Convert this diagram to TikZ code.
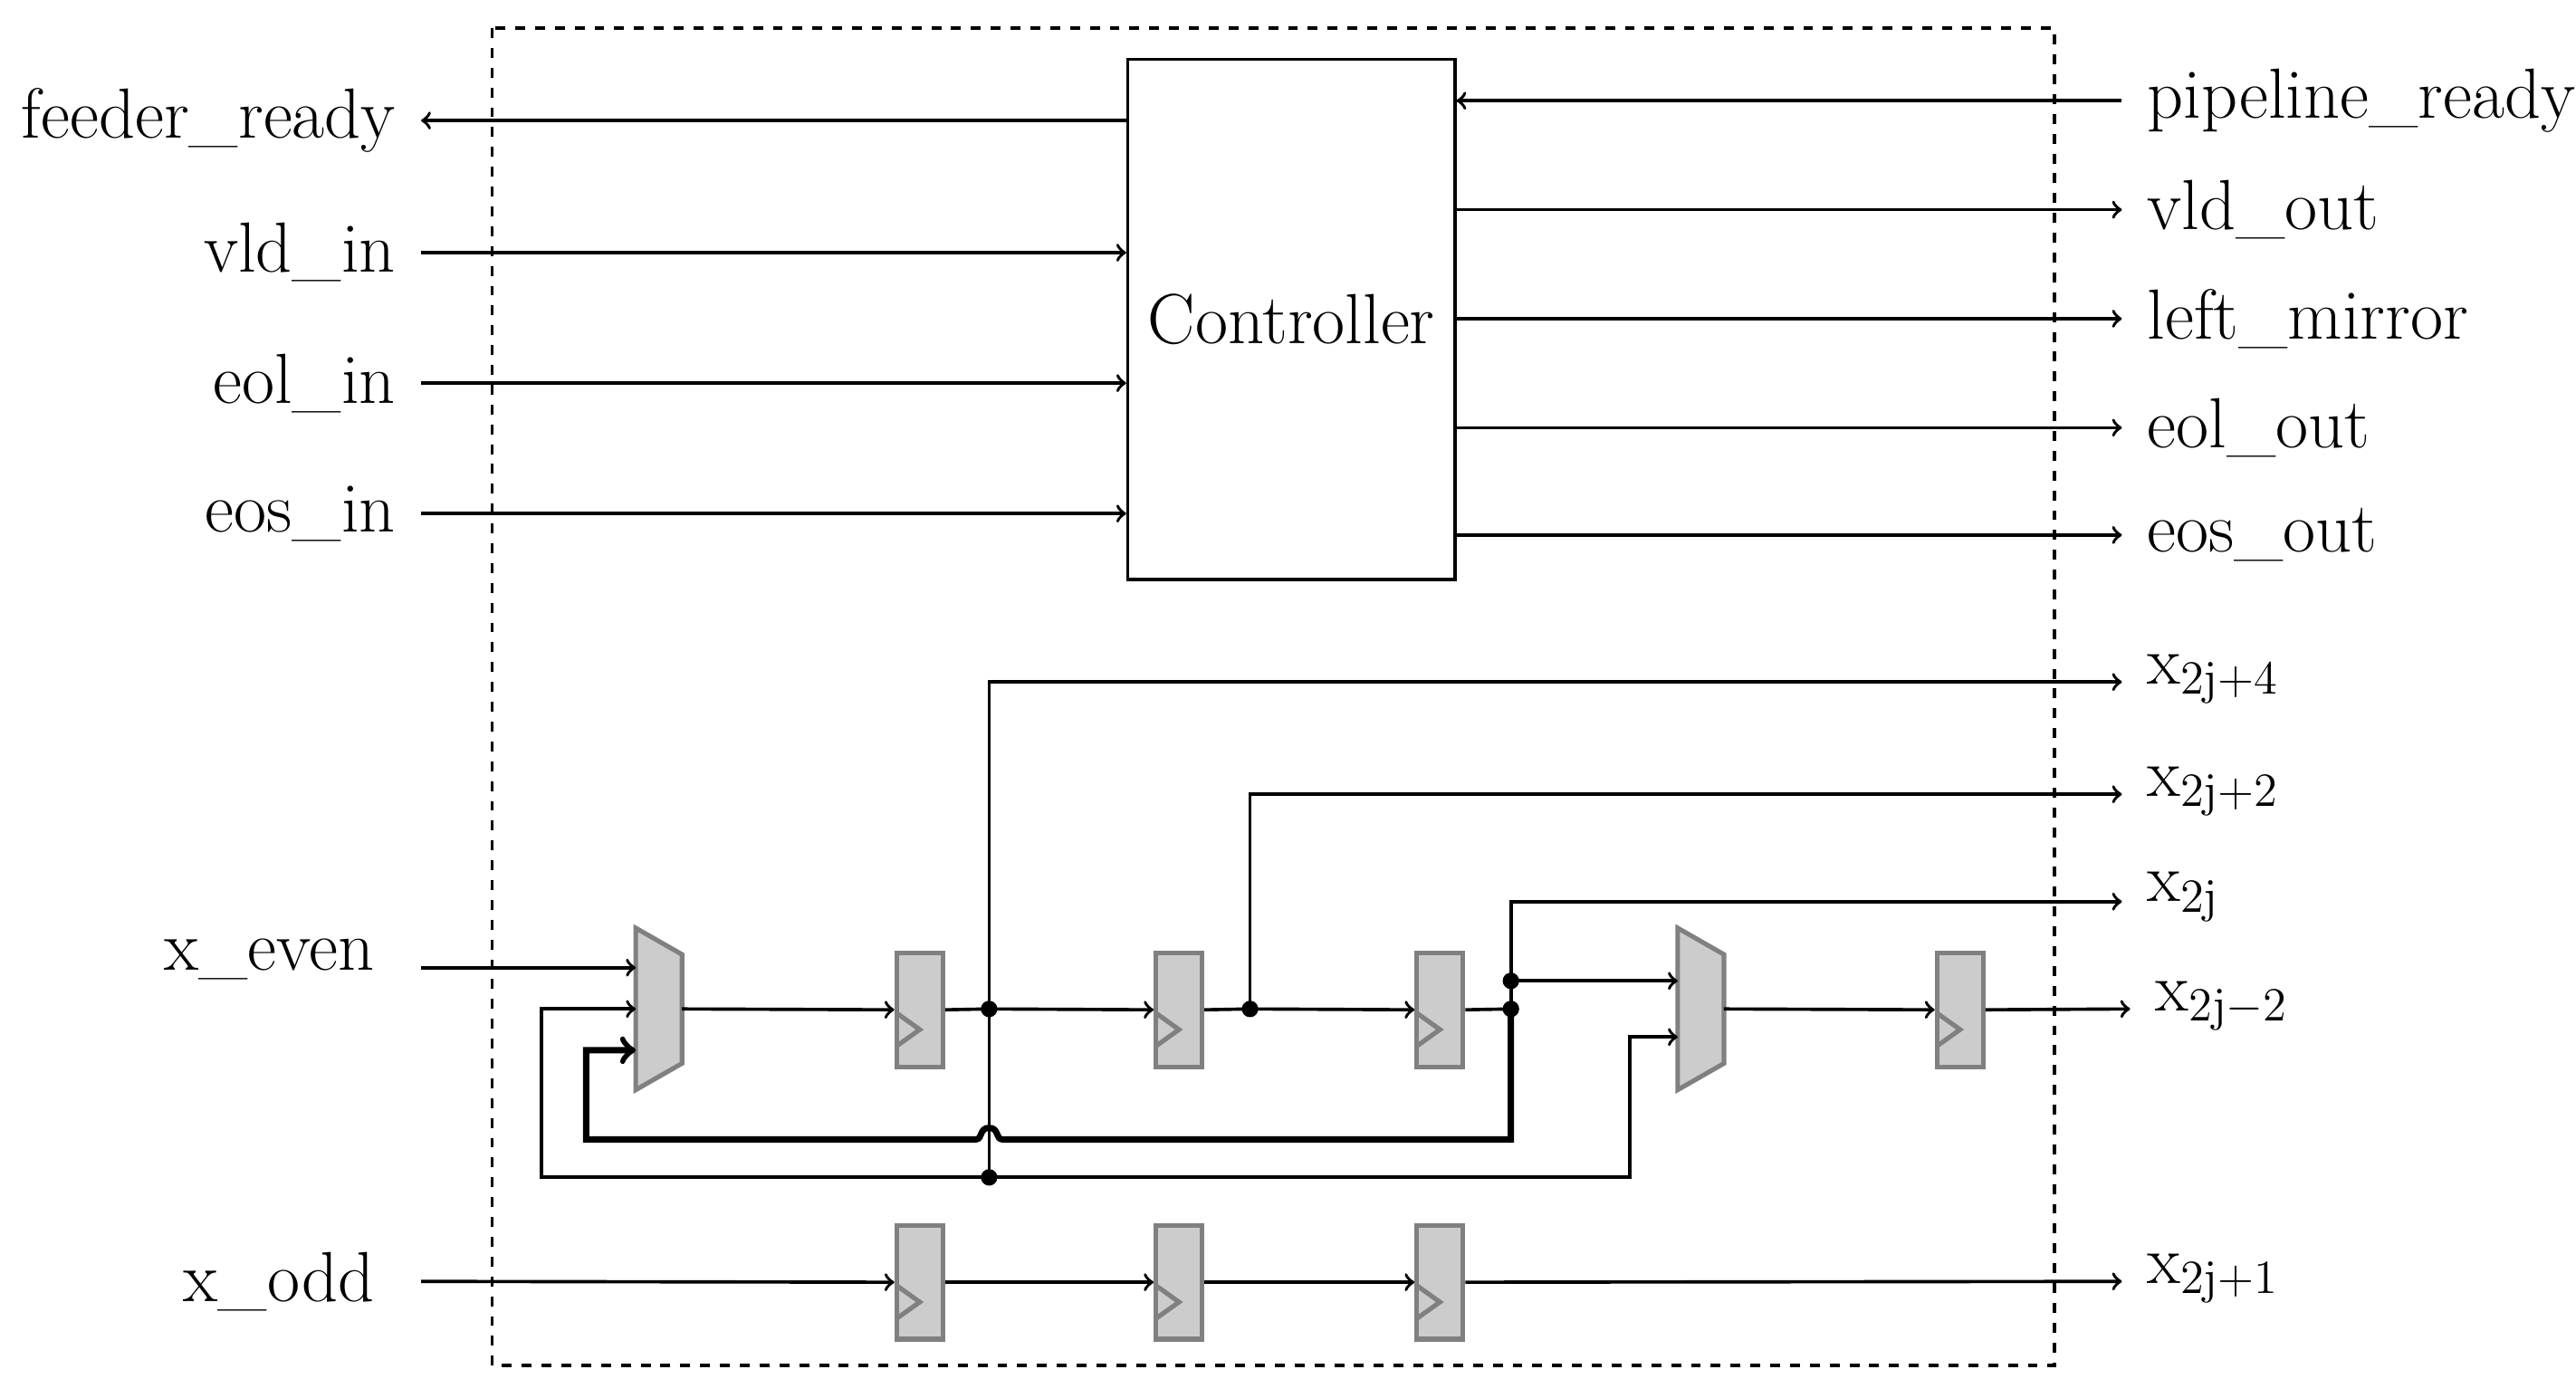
\documentclass[tikz,border=0pt]{standalone}
\begin{document}
\begin{tikzpicture}[x=0.5pt,y=-0.5pt,
  wire/.style={line width=1pt},
  thk/.style={line width=1.9pt},
  arr/.style={wire,->},
  lbl/.style={font=\fontsize{21.5}{25}\selectfont, inner sep=0pt},
  gblk/.style={fill=black!20, draw=black!50, line width=1.4pt},
  dot/.style={circle, fill=black, inner sep=0pt, minimum size=5pt}]
\useasboundingbox (0,0) rectangle (1560,835);
\draw[dashed, line width=1pt] (298,17) rectangle (1244,827);
% controller
\node[draw, wire, minimum width=99pt, minimum height=157.5pt, inner sep=0pt, lbl] (ctl) at (782,193.5) {Controller};
% left labels
\node[lbl, anchor=east] (fr) at (240,73) {feeder\_ready};
\node[lbl, anchor=east] (vi) at (240,153) {vld\_in};
\node[lbl, anchor=east] (ei) at (240,232) {eol\_in};
\node[lbl, anchor=east] (si) at (240,311) {eos\_in};
\draw[arr] (ctl.west |- 0,73) -- (255,73);
\foreach \n/\y in {vi/153, ei/232, si/311} \draw[arr] (255,\y) -- (ctl.west |- 0,\y);
% right labels
\node[lbl, anchor=west] (pr) at (1300,61) {pipeline\_ready};
\node[lbl, anchor=west] (vo) at (1300,127) {vld\_out};
\node[lbl, anchor=west] (lm) at (1300,193) {left\_mirror};
\node[lbl, anchor=west] (eo) at (1300,259) {eol\_out};
\node[lbl, anchor=west] (so) at (1300,324) {eos\_out};
\draw[arr] (1285,61) -- (ctl.east |- 0,61);
\foreach \y in {127,193,259,324} \draw[arr] (ctl.east |- 0,\y) -- (1285,\y);
% outputs labels
\node[lbl, anchor=west] (o4) at (1300,411) {$\mathrm{x}_{\mathrm{2j+4}}$};
\node[lbl, anchor=west] (o2) at (1300,479) {$\mathrm{x}_{\mathrm{2j+2}}$};
\node[lbl, anchor=west] (o0) at (1300,543) {$\mathrm{x}_{\mathrm{2j}}$};
\node[lbl, anchor=west] (om) at (1305,609) {$\mathrm{x}_{\mathrm{2j-2}}$};
\node[lbl, anchor=west] (o1) at (1300,774) {$\mathrm{x}_{\mathrm{2j+1}}$};
\node[lbl, anchor=east] (xe) at (227,581) {x\_even};
\node[lbl, anchor=east] (xo) at (227,776) {x\_odd};
% muxes
\draw[gblk] (385,562) -- (413,578) -- (413,644) -- (385,660) -- cycle;
\draw[gblk] (1016,562) -- (1044,578) -- (1044,644) -- (1016,660) -- cycle;
\coordinate (m1o) at (413,611); \coordinate (m2o) at (1044,611);
% registers
\foreach \x/\yc/\nm in {557/611.5/r1, 714/611.5/r2, 872/611.5/r3, 1187/611.5/r4, 557/776.5/q1, 714/776.5/q2, 872/776.5/q3}{
  \node[gblk, minimum width=14pt, minimum height=34.5pt, inner sep=0pt] (\nm) at (\x,\yc) {};
  \draw[draw=black!50, line width=1.4pt] (\x-14,\yc+2) -- (\x,\yc+12) -- (\x-14,\yc+22);
}
% x_even path
\draw[arr] (255,586) -- (385,586);
\draw[arr] (m1o) -- (r1.west);
\draw[wire] (r1.east) -- (599,611) coordinate (j1);
\draw[arr] (j1) -- (r2.west);
\draw[wire] (r2.east) -- (757,611) coordinate (j2);
\draw[arr] (j2) -- (r3.west);
\draw[wire] (r3.east) -- (915,611) coordinate (j3);
\coordinate (j4) at (915,594);
\coordinate (j5) at (599,713);
\draw[arr] (j4) -- (1016,594);
\draw[arr] (m2o) -- (r4.west);
\draw[arr] (r4.east) -- (1290,611);
% taps
\draw[arr] (j5) -- (599,413) -- (1285,413);
\draw[arr] (j2) -- (757,481) -- (1285,481);
\draw[arr] (j3) -- (915,546) -- (1285,546);
% feedback
\draw[thk,->] (j3) -- (915,690) -- (607,690) .. controls (603,690) and (605,683) .. (599,683) .. controls (593,683) and (595,690) .. (591,690) -- (355,690) -- (355,636) -- (385,636);
\draw[arr] (j5) -- (328,713) -- (328,611) -- (385,611);
\draw[arr] (j5) -- (987,713) -- (987,628) -- (1016,628);
\node[dot] at (j1) {}; \node[dot] at (j2) {}; \node[dot] at (j3) {};
\node[dot] at (j4) {}; \node[dot] at (j5) {};
% x_odd
\draw[arr] (255,776) -- (q1.west);
\draw[arr] (q1.east) -- (q2.west);
\draw[arr] (q2.east) -- (q3.west);
\draw[arr] (q3.east) -- (1285,776);
\end{tikzpicture}
\end{document}
